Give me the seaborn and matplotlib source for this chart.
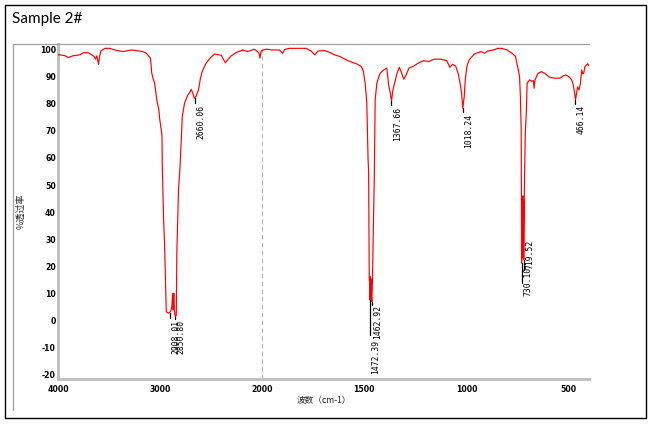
import numpy as np
import pandas as pd
import matplotlib
matplotlib.use("Agg")
import matplotlib.pyplot as plt
from matplotlib.patches import Rectangle
from matplotlib.lines import Line2D
from matplotlib.ticker import FixedLocator, FixedFormatter
import seaborn as sns

# ---------------- data ----------------
wavenumber = [
    4000, 3980, 3932, 3900, 3850, 3785, 3753, 3704, 3671, 3646, 3632, 3620, 3603, 3593,
    3580, 3541, 3493, 3444, 3363, 3281, 3200, 3168, 3135, 3110, 3096, 3090, 3083, 3070,
    3054, 3044, 3030, 3012, 3005, 2995, 2982, 2979, 2966, 2956, 2946, 2940, 2920, 2908,
    2895, 2885, 2877, 2872, 2866, 2860, 2851, 2842, 2836, 2820, 2803, 2793, 2783, 2761,
    2729, 2705, 2696, 2680, 2665, 2650, 2624, 2608, 2589, 2550, 2510, 2468, 2436, 2400,
    2387, 2361, 2340, 2305, 2257, 2192, 2143, 2078, 2046, 2030, 2023, 2010, 1982, 1949,
    1916, 1900, 1890, 1867, 1834, 1785, 1760, 1743, 1727, 1694, 1661, 1645, 1620, 1587,
    1562, 1538, 1521, 1513, 1505, 1496, 1488, 1482, 1479, 1476, 1474, 1473, 1472, 1471,
    1470, 1468, 1466, 1463, 1460, 1457, 1451, 1447, 1439, 1423, 1406, 1390, 1381, 1373,
    1367, 1360, 1352, 1340, 1329, 1320, 1307, 1295, 1282, 1258, 1233, 1209, 1184, 1160,
    1127, 1097, 1081, 1069, 1053, 1041, 1031, 1024, 1018, 1011, 1006, 998, 987, 962,
    929, 910, 897, 867, 848, 826, 801, 777, 760, 748, 740, 736, 732, 731, 730, 728,
    726, 724, 722, 720, 719.5, 718, 716, 712, 707, 703, 691, 679, 672, 669, 664, 650,
    633, 617, 592, 568, 543, 526, 515, 499, 485, 477, 469, 466, 461, 456, 449, 442,
    436, 430, 426, 420, 406, 400,
]
transmittance = [
    98.0, 98.0, 97.7, 97.0, 97.7, 98.0, 98.8, 98.8, 98.0, 97.4, 96.4, 97.6, 94.5, 97.4,
    99.4, 100.4, 100.4, 99.8, 99.2, 99.8, 99.4, 99.2, 98.6, 97.5, 96.8, 95.0, 91.5, 89.4,
    87.5, 84.7, 80.8, 77.7, 74.6, 72.0, 68.5, 57.4, 37.1, 27.9, 13.2, 3.3, 2.8, 3.0,
    3.5, 5.2, 10.1, 4.0, 10.1, 3.5, 1.5, 1.8, 25.5, 48.2, 58.0, 66.6, 75.2, 80.2,
    83.2, 84.4, 85.3, 83.9, 82.0, 82.6, 85.1, 88.8, 91.8, 94.9, 96.8, 98.3, 98.1, 97.8,
    96.8, 95.1, 96.1, 97.6, 98.8, 99.8, 99.2, 100.1, 99.2, 98.5, 96.8, 99.5, 100.1, 99.8,
    99.8, 98.6, 100.0, 100.4, 100.4, 100.4, 99.4, 98.0, 99.4, 99.6, 98.6, 98.0, 97.4, 96.1,
    95.3, 94.7, 94.0, 93.5, 92.0, 87.5, 80.2, 60.0, 54.4, 15.0, 14.0, 8.0, 7.6, 16.2,
    8.5, 15.5, 9.0, 7.0, 16.0, 29.8, 54.4, 81.4, 87.5, 91.2, 92.4, 93.1, 86.9, 83.9,
    81.0, 85.1, 87.5, 91.2, 93.4, 91.8, 89.0, 90.6, 93.1, 93.9, 95.1, 95.9, 95.5, 96.4,
    96.4, 95.9, 93.4, 94.5, 93.9, 91.2, 87.5, 83.9, 78.3, 82.6, 88.8, 93.7, 96.1, 98.3,
    99.2, 98.6, 99.4, 99.8, 100.4, 100.4, 99.8, 98.6, 97.4, 93.1, 90.0, 82.6, 70.3, 47.0, 21.2, 45.0,
    24.0, 46.0, 23.0, 44.0, 22.4, 40.0, 50.7, 69.1, 76.5, 87.5, 88.8, 88.2, 88.5, 85.7, 88.8, 91.2,
    91.8, 91.2, 89.7, 89.4, 89.4, 90.2, 90.6, 90.0, 88.8, 86.9, 83.2, 81.4, 83.9, 86.2, 85.1, 87.5,
    92.4, 91.0, 91.2, 93.7, 94.7, 94.0,
]

peak_wn = [2908.01, 2850.80, 2660.06, 1472.39, 1462.92, 1367.66, 1018.24, 730.10, 719.52, 466.14]
peak_labels = ["2908.01", "2850.80", "2660.06", "1472.39", "1462.92",
               "1367.66", "1018.24", "730.10", "719.52", "466.14"]
peak_T = [3.0, 1.5, 82.0, 7.6, 7.0, 81.0, 78.3, 21.2, 22.4, 81.4]
tick_end_T = [1.0, 0.8, 80.2, -5.3, 5.9, 79.5, 76.8, 13.8, 18.7, 79.8]
label_top_T = [0.3, 0.3, 79.5, -7.1, 5.8, 78.8, 76.2, 19.8, 29.8, 79.5]

major_ticks = [4000, 3000, 2000, 1500, 1000, 500]
minor_ticks = [3750, 3500, 3250, 2750, 2500, 2250, 1900, 1800, 1700, 1600,
               1400, 1300, 1200, 1100, 900, 800, 700, 600, 400]
y_ticks = list(range(-20, 101, 10))

df = pd.DataFrame({"wn": wavenumber, "T": transmittance})

# ---------------- figure ----------------
sns.set_style("white")
plt.rcParams["font.family"] = ["DejaVu Sans"]

W, H = 650, 424
fig = plt.figure(figsize=(W / 100, H / 100), dpi=100)

L, R, T_, B = 58, 589, 44, 379
ax = fig.add_axes([L / W, 1 - B / H, (R - L) / W, (B - T_) / H])


# piecewise-linear wavenumber scale: 4000-2000 compressed by a factor of 2
def fwd(w):
    w = np.asarray(w, dtype=float)
    return np.where(w >= 2000, (w - 2000) * 0.5, w - 2000)


def inv(t):
    t = np.asarray(t, dtype=float)
    return np.where(t >= 0, 2000 + 2 * t, 2000 + t)


ax.set_xscale("function", functions=(fwd, inv))

ax.axvline(2000, color="#b4b4b4", lw=0.8, ls=(0, (4, 3)), zorder=1)

sns.lineplot(data=df, x="wn", y="T", sort=False, estimator=None,
             color="#ff0000", lw=0.85, ax=ax, zorder=3)

ax.set_xlim(4000, 400)
ax.set_ylim(-21.5, 102)

# peak annotations
for wn, lab, pt, te, lt in zip(peak_wn, peak_labels, peak_T, tick_end_T, label_top_T):
    ax.plot([wn, wn], [pt, te], color="black", lw=0.9, zorder=4)
    ax.annotate(lab, xy=(wn, lt), xytext=(6, 0), textcoords="offset pixels",
                rotation=90, ha="center", va="top", fontsize=5.8,
                family="DejaVu Sans Mono", color="black", zorder=5)

# axes styling
ax.xaxis.set_major_locator(FixedLocator(major_ticks))
ax.xaxis.set_major_formatter(FixedFormatter([str(v) for v in major_ticks]))
ax.xaxis.set_minor_locator(FixedLocator(minor_ticks))
ax.set_yticks(y_ticks)
ax.set_yticklabels([str(v) for v in y_ticks])

for s in ["left", "bottom"]:
    ax.spines[s].set_color("#c0c0c0")
    ax.spines[s].set_linewidth(2.2)
ax.spines["top"].set_color("#a0a0a0")
ax.spines["top"].set_linewidth(0.9)
ax.spines["right"].set_visible(False)

ax.tick_params(axis="both", which="major", direction="in", length=2.2, width=0.9,
               color="black", labelsize=5.6, labelcolor="black")
ax.tick_params(axis="x", which="minor", direction="in", length=1.8, width=0.9, color="black")
ax.tick_params(axis="x", which="major", pad=4)
ax.tick_params(axis="y", which="major", pad=1.5)
for lab in ax.get_xticklabels() + ax.get_yticklabels():
    lab.set_fontweight("bold")

cjk = ["Noto Sans CJK SC", "DejaVu Sans"]
ax.set_xlabel("波数（cm-1）", family=cjk, fontsize=6.2)
ax.xaxis.set_label_coords(0.5, -0.05)
ax.set_ylabel("%透过率", family=cjk, fontsize=6.5)
ax.yaxis.set_label_coords(-0.062, 0.5)

# title
fig.text(12 / W, 1 - 23 / H, "Sample 2#", family="Lato", fontsize=11, ha="left",
         va="baseline", color="black")

# frames
fig.patches.append(Rectangle((5 / W, 1 - 418 / H), 641 / W, 413 / H, transform=fig.transFigure,
                             fill=False, edgecolor="black", lw=1.0))
fig.lines.append(Line2D([13 / W, L / W], [1 - 43.5 / H, 1 - 43.5 / H], transform=fig.transFigure,
                        color="#a0a0a0", lw=0.9))
fig.lines.append(Line2D([13 / W, 13 / W], [1 - 43.5 / H, 1 - 410 / H], transform=fig.transFigure,
                        color="#a0a0a0", lw=0.9))

fig.savefig("out.png", dpi=100)
